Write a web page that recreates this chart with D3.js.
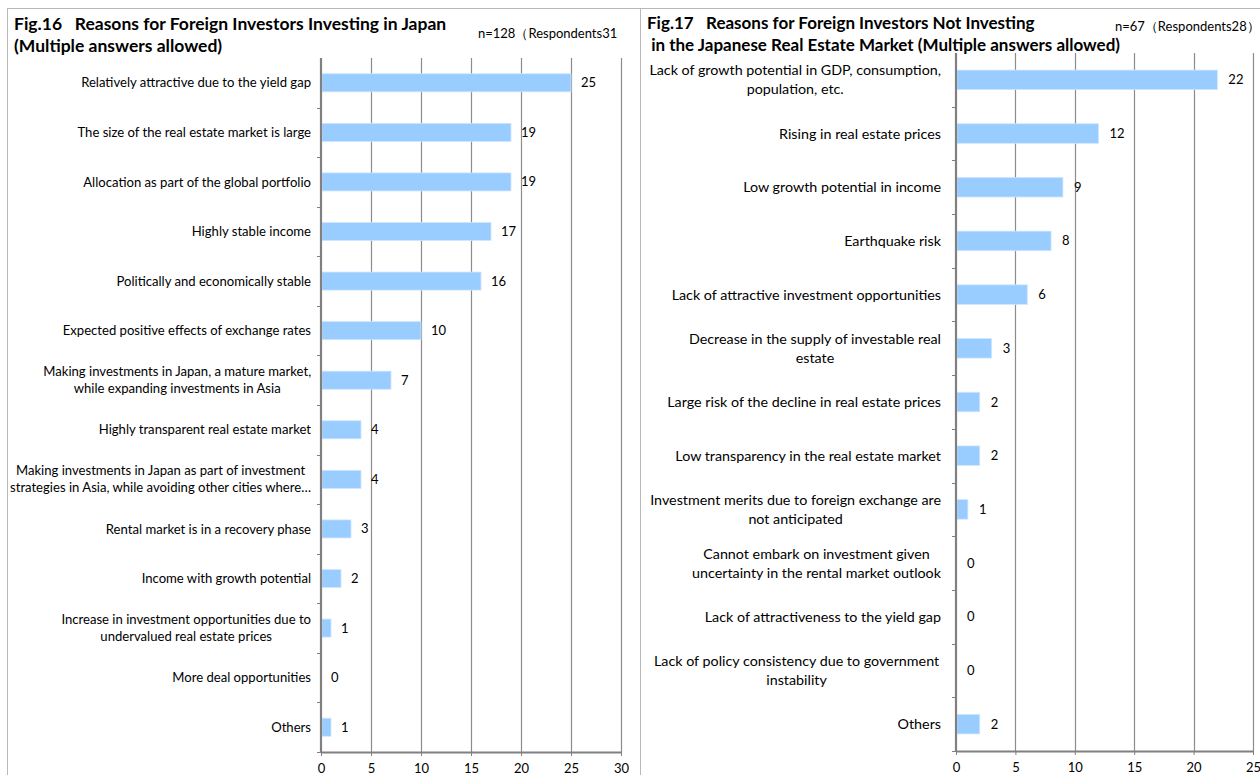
<!DOCTYPE html>
<html><head><meta charset="utf-8">
<script src="https://cdn.jsdelivr.net/npm/d3@7/dist/d3.min.js"></script>
<style>
html,body{margin:0;padding:0;background:#fff;}
svg{display:block;}
text{font-family:Lato, "Open Sans", sans-serif;fill:#000;}
</style></head><body>
<svg id="c" width="1260" height="775"></svg>
<script>
// ---- Data ----
const leftCategories = [
  "Relatively attractive due to the yield gap",
  "The size of the real estate market is large",
  "Allocation as part of the global portfolio",
  "Highly stable income",
  "Politically and economically stable",
  "Expected positive effects of exchange rates",
  "Making investments in Japan, a mature market,\nwhile expanding investments in Asia",
  "Highly transparent real estate market",
  "Making investments in Japan as part of investment\nstrategies in Asia, while avoiding other cities where…",
  "Rental market is in a recovery phase",
  "Income with growth potential",
  "Increase in investment opportunities due to\nundervalued real estate prices",
  "More deal opportunities",
  "Others"
];
const leftValues = [25, 19, 19, 17, 16, 10, 7, 4, 4, 3, 2, 1, 0, 1];
const leftTicks = [0, 5, 10, 15, 20, 25, 30];

const rightCategories = [
  "Lack of growth potential in GDP, consumption,\npopulation, etc.",
  "Rising in real estate prices",
  "Low growth potential in income",
  "Earthquake risk",
  "Lack of attractive investment opportunities",
  "Decrease in the supply of investable real\nestate",
  "Large risk of the decline in real estate prices",
  "Low transparency in the real estate market",
  "Investment merits due to foreign exchange are\nnot anticipated",
  "Cannot embark on investment given\nuncertainty in the rental market outlook",
  "Lack of attractiveness to the yield gap",
  "Lack of policy consistency due to government\ninstability",
  "Others"
];
const rightValues = [22, 12, 9, 8, 6, 3, 2, 2, 1, 0, 0, 0, 2];
const rightTicks = [0, 5, 10, 15, 20, 25];

const leftTitle = ["Fig.16\u00a0\u00a0 Reasons for Foreign Investors Investing in Japan", "(Multiple answers allowed)"];
const rightTitle = ["Fig.17\u00a0\u00a0 Reasons for Foreign Investors Not Investing", "\u00a0in the Japanese Real Estate Market (Multiple answers allowed)"];
const leftN = "n=128（Respondents31";
const rightN = "n=67（Respondents28）";

// ---- Drawing ----
const svg = d3.select("#c");

// panel frames
svg.append("line").attr("x1",7).attr("x2",1260).attr("y1",8.5).attr("y2",8.5).attr("stroke","#b8b8b8");
svg.append("line").attr("x1",7.5).attr("x2",7.5).attr("y1",8).attr("y2",775).attr("stroke","#b8b8b8");
svg.append("line").attr("x1",640.5).attr("x2",640.5).attr("y1",8).attr("y2",775).attr("stroke","#b8b8b8");

function panel(cfg){
  const g = svg.append("g");
  // titles
  cfg.title.forEach((t,i)=>{
    g.append("text").attr("x",cfg.titleX).attr("y",cfg.titleY + i*22)
      .attr("font-size",cfg.titleSize).attr("font-weight","bold").text(t);
  });
  g.append("text").attr("x",cfg.nX).attr("y",cfg.nY)
    .attr("font-family","'Liberation Sans', Arial, sans-serif")
    .attr("font-size",13).text(cfg.n);

  const x = d3.scaleLinear().domain(cfg.domain).range(cfg.xRange);
  const y = d3.scaleBand().domain(cfg.cats).range(cfg.yRange)
    .paddingInner(cfg.pad).paddingOuter(cfg.pad/2);
  const y0 = cfg.yRange[0], y1 = cfg.yRange[1];

  // gridlines
  g.append("g").selectAll("line").data(cfg.ticks.slice(1)).join("line")
    .attr("x1",d=>Math.round(x(d))+0.5).attr("x2",d=>Math.round(x(d))+0.5)
    .attr("y1",y0).attr("y2",y1).attr("stroke","#8c8c8c").attr("stroke-width",1.2);

  // bars
  g.append("g").selectAll("rect").data(cfg.values).join("rect")
    .attr("x",x(0)+1).attr("y",(d,i)=>y(cfg.cats[i]))
    .attr("width",d=>Math.max(0,x(d)-x(0)-1)).attr("height",y.bandwidth())
    .attr("fill","#99ccff").attr("stroke","#cfe6ff").attr("stroke-width",0.8)
    .attr("display",d=>d>0?null:"none");

  // value labels
  g.append("g").selectAll("text").data(cfg.values).join("text")
    .attr("x",d=>x(d)+cfg.valOff).attr("y",(d,i)=>y(cfg.cats[i])+y.bandwidth()/2)
    .attr("dy","0.35em").attr("font-size",cfg.valSize).text(d=>d);

  // x axis
  const xa = d3.axisBottom(x).tickValues(cfg.ticks).tickSize(4).tickSizeOuter(0);
  const xg = g.append("g").attr("transform",`translate(0,${y1})`).call(xa);
  xg.select(".domain").attr("stroke","#808080").attr("stroke-width",2.2);
  xg.selectAll(".tick line").attr("stroke","#808080");
  xg.selectAll(".tick text").attr("font-family","Lato, sans-serif").attr("font-size",cfg.valSize).attr("fill","#000").attr("dy","1.05em");

  // y axis line with boundary ticks
  g.append("line").attr("x1",x(0)).attr("x2",x(0)).attr("y1",y0).attr("y2",y1+1)
    .attr("stroke","#808080").attr("stroke-width",2.2);
  const bounds = d3.range(cfg.cats.length+1).map(i=>y0 + i*y.step());
  g.append("g").selectAll("line").data(bounds.slice(1)).join("line")
    .attr("x1",x(0)-4).attr("x2",x(0)).attr("y1",d=>Math.round(d)+0.5).attr("y2",d=>Math.round(d)+0.5)
    .attr("stroke","#808080").attr("stroke-width",1);

  // category labels (wrapped, centred block right-aligned)
  cfg.cats.forEach((c,i)=>{
    const lines = c.split("\n");
    const cy = y(c)+y.bandwidth()/2;
    const t = g.append("text").attr("font-size",cfg.labSize).attr("text-anchor","middle");
    const spans = lines.map((l,j)=>t.append("tspan").text(l));
    const widths = spans.map(s=>s.node().getComputedTextLength());
    const maxW = d3.max(widths);
    const cx = cfg.labRight - maxW/2;
    const startY = cy - (lines.length-1)*cfg.lineH/2;
    spans.forEach((s,j)=>s.attr("x",cx).attr("y",startY + j*cfg.lineH).attr("dy","0.35em"));
  });
}

panel({
  title:leftTitle, titleX:14, titleY:30, titleSize:17.5, n:leftN, nX:478, nY:38,
  cats:leftCategories, values:leftValues, ticks:leftTicks, domain:[0,30],
  xRange:[321,621], yRange:[58,752], pad:0.636, valOff:10, valSize:13,
  labRight:311, labSize:13.1, lineH:17
});
panel({
  title:rightTitle, titleX:647, titleY:29, titleSize:17, n:rightN, nX:1115, nY:31,
  cats:rightCategories, values:rightValues, ticks:rightTicks, domain:[0,25],
  xRange:[956,1253], yRange:[53,751], pad:0.636, valOff:11, valSize:13,
  labRight:941, labSize:14.3, lineH:19
});
</script>
</body></html>
